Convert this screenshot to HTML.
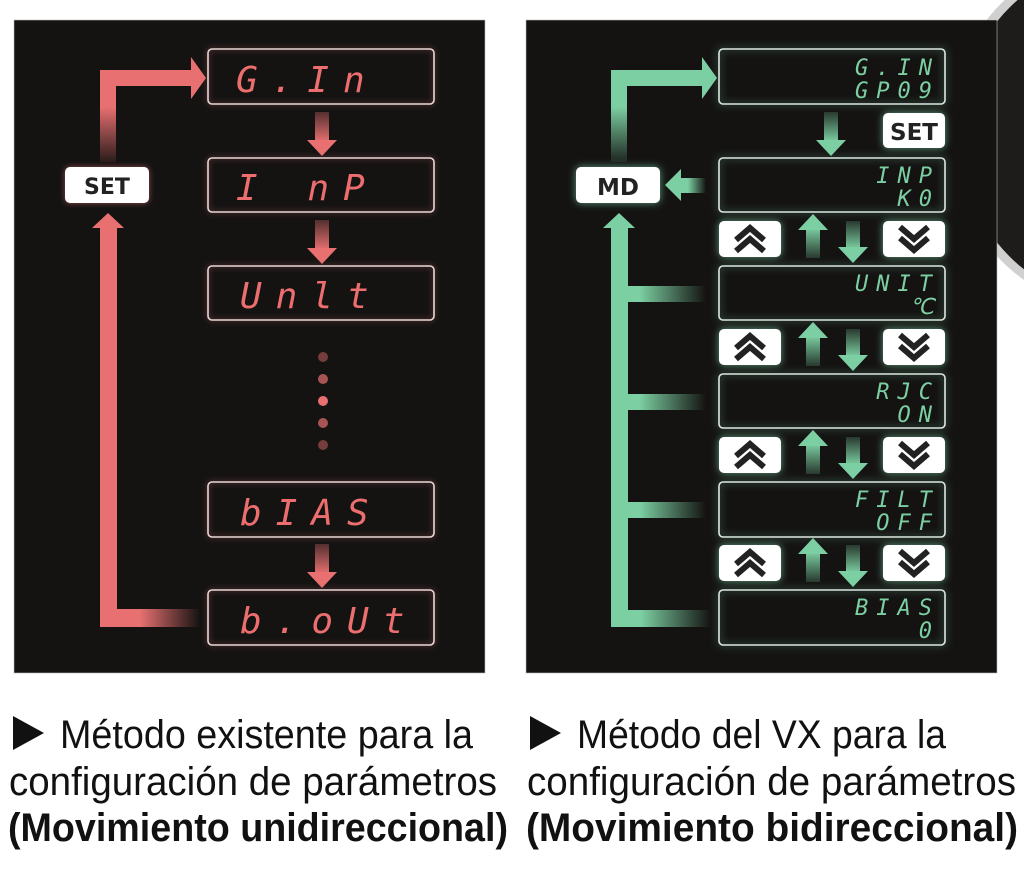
<!DOCTYPE html>
<html><head><meta charset="utf-8"><style>
html,body{margin:0;padding:0;background:#fff;}
svg{display:block}
</style></head><body>
<svg width="1024" height="888" viewBox="0 0 1024 888" xmlns="http://www.w3.org/2000/svg">
<defs>
<filter id="gr" x="-30%" y="-60%" width="160%" height="220%"><feFlood flood-color="#e87070" flood-opacity="0.6"/><feComposite operator="in" in2="SourceAlpha"/><feGaussianBlur stdDeviation="3"/><feMerge><feMergeNode/><feMergeNode in="SourceGraphic"/></feMerge></filter>
<filter id="gg" x="-30%" y="-60%" width="160%" height="220%"><feFlood flood-color="#7ed6a8" flood-opacity="0.7"/><feComposite operator="in" in2="SourceAlpha"/><feGaussianBlur stdDeviation="4"/><feMerge><feMergeNode/><feMergeNode in="SourceGraphic"/></feMerge></filter>
<linearGradient id="rv" x1="0" y1="1" x2="0" y2="0"><stop offset="0" stop-color="#e87070" stop-opacity="0.1"/><stop offset="0.6" stop-color="#e87070"/></linearGradient>
<linearGradient id="rh" x1="0" y1="0" x2="1" y2="0"><stop offset="0.4" stop-color="#e87070"/><stop offset="1" stop-color="#e87070" stop-opacity="0"/></linearGradient>
<linearGradient id="rd" x1="0" y1="0" x2="0" y2="1"><stop offset="0" stop-color="#e87070" stop-opacity="0.3"/><stop offset="1" stop-color="#e87070"/></linearGradient>
<linearGradient id="gv" x1="0" y1="1" x2="0" y2="0"><stop offset="0" stop-color="#7ccfa2" stop-opacity="0.1"/><stop offset="0.6" stop-color="#7ccfa2"/></linearGradient>
<linearGradient id="gh" x1="0" y1="0" x2="1" y2="0"><stop offset="0.3" stop-color="#7ccfa2"/><stop offset="1" stop-color="#7ccfa2" stop-opacity="0"/></linearGradient>
<linearGradient id="ghl" x1="1" y1="0" x2="0" y2="0"><stop offset="0" stop-color="#7ccfa2" stop-opacity="0"/><stop offset="0.7" stop-color="#7ccfa2"/></linearGradient>
<linearGradient id="gd" x1="0" y1="0" x2="0" y2="1"><stop offset="0" stop-color="#7ccfa2" stop-opacity="0.2"/><stop offset="1" stop-color="#7ccfa2"/></linearGradient>
<linearGradient id="gu" x1="0" y1="1" x2="0" y2="0"><stop offset="0" stop-color="#7ccfa2" stop-opacity="0.2"/><stop offset="1" stop-color="#7ccfa2"/></linearGradient>
</defs>

<circle cx="1130" cy="132" r="182" fill="#d0d0d0"/>
<circle cx="1134" cy="132" r="176" fill="#1e1c1b"/>

<rect x="14" y="20" width="471" height="653" fill="#141312" stroke="#bbb" stroke-width="0.6"/>
<rect x="526" y="20" width="471" height="653" fill="#141312" stroke="#bbb" stroke-width="0.6"/>

<g fill="none" stroke="#e8d8d8" stroke-width="1.6" filter="url(#gr)">
<rect x="208" y="49" width="226" height="55" rx="4"/>
<rect x="208" y="158" width="226" height="54" rx="4"/>
<rect x="208" y="266" width="226" height="54" rx="4"/>
<rect x="208" y="482" width="226" height="55" rx="4"/>
<rect x="208" y="590" width="226" height="55" rx="4"/>
</g>
<g font-family="'DejaVu Sans Mono','Liberation Mono',monospace" font-size="36" font-style="italic" fill="#ec6e6e" letter-spacing="14">
<text x="236" y="92">G.In</text>
<text x="236" y="200">I nP</text>
<text x="240" y="308">Unlt</text>
<text x="240" y="525">bIAS</text>
<text x="240" y="633">b.oUt</text>
</g>
<rect x="100" y="70" width="16" height="92" fill="url(#rv)"/>
<rect x="100" y="70" width="92" height="16" fill="#e87070"/>
<polygon points="191,57 206,78 191,99" fill="#e87070"/>
<rect x="100" y="226" width="17" height="400" fill="#e87070"/>
<polygon points="92,228 108,213 124,228" fill="#e87070"/>
<rect x="100" y="609" width="100" height="18" fill="url(#rh)"/>
<rect x="315" y="112" width="14" height="30" fill="url(#rd)"/><polygon points="307,140 322,156 337,140" fill="#e87070"/>
<rect x="315" y="220" width="14" height="30" fill="url(#rd)"/><polygon points="307,248 322,264 337,248" fill="#e87070"/>
<rect x="315" y="544" width="14" height="30" fill="url(#rd)"/><polygon points="307,572 322,588 337,572" fill="#e87070"/>
<g fill="#e87070"><circle cx="323" cy="357" r="5" opacity="0.45"/><circle cx="323" cy="379" r="5" opacity="0.7"/><circle cx="323" cy="401" r="5"/><circle cx="323" cy="423" r="5" opacity="0.7"/><circle cx="323" cy="445" r="5" opacity="0.45"/></g>
<rect x="65" y="167" width="84" height="36" rx="5" fill="#fff" filter="url(#gr)"/>
<text x="107" y="194" text-anchor="middle" font-family="'DejaVu Sans','Liberation Sans',sans-serif" font-weight="bold" font-size="22" fill="#222">SET</text>

<g fill="none" stroke="#dde8e2" stroke-width="1.6" filter="url(#gg)">
<rect x="719" y="49" width="226" height="55" rx="4"/>
<rect x="719" y="158" width="226" height="54" rx="4"/>
<rect x="719" y="266" width="226" height="54" rx="4"/>
<rect x="719" y="374" width="226" height="54" rx="4"/>
<rect x="719" y="482" width="226" height="55" rx="4"/>
<rect x="719" y="590" width="226" height="55" rx="4"/>
</g>
<g font-family="'DejaVu Sans Mono','Liberation Mono',monospace" font-size="22" font-style="italic" fill="#7ccfa2" text-anchor="end" letter-spacing="8">
<text x="940" y="75">G.IN</text><text x="940" y="98">GP09</text>
<text x="940" y="183">INP</text><text x="940" y="206">K0</text>
<text x="940" y="291">UNIT</text><text x="934" y="314" letter-spacing="0">℃</text>
<text x="940" y="399">RJC</text><text x="940" y="422">ON</text>
<text x="940" y="507">FILT</text><text x="940" y="530">OFF</text>
<text x="940" y="615">BIAS</text><text x="940" y="638">0</text>
</g>
<rect x="611" y="70" width="16" height="92" fill="url(#gv)"/>
<rect x="611" y="70" width="92" height="16" fill="#7ccfa2"/>
<polygon points="702,57 717,78 702,99" fill="#7ccfa2"/>
<rect x="611" y="226" width="17" height="400" fill="#7ccfa2"/>
<polygon points="603,228 619,213 635,228" fill="#7ccfa2"/>
<rect x="611" y="286" width="95" height="16" fill="url(#gh)"/>
<rect x="611" y="394" width="95" height="16" fill="url(#gh)"/>
<rect x="611" y="502" width="95" height="16" fill="url(#gh)"/>
<rect x="611" y="610" width="100" height="17" fill="url(#gh)"/>
<rect x="680" y="178" width="26" height="15" fill="url(#ghl)"/><polygon points="681,169 665,185 681,201" fill="#7ccfa2"/>
<rect x="824" y="112" width="14" height="30" fill="url(#gd)"/><polygon points="816,140 831,156 846,140" fill="#7ccfa2"/>
<g id="pair">
<rect x="806" y="228" width="14" height="30" fill="url(#gu)"/><polygon points="798,230 813,214 828,230" fill="#7ccfa2"/>
<rect x="846" y="221" width="14" height="28" fill="url(#gd)"/><polygon points="838,247 853,263 868,247" fill="#7ccfa2"/>
<rect x="719" y="221" width="62" height="36" rx="5" fill="#fff" filter="url(#gg)"/>
<rect x="883" y="221" width="62" height="36" rx="5" fill="#fff" filter="url(#gg)"/>
<path d="M736,240 l14,-12 l14,12 M736,251 l14,-12 l14,12" stroke="#222" stroke-width="6" fill="none"/>
<path d="M900,227 l14,12 l14,-12 M900,238 l14,12 l14,-12" stroke="#222" stroke-width="6" fill="none"/>
</g>
<use href="#pair" y="108"/>
<use href="#pair" y="216"/>
<use href="#pair" y="324"/>
<rect x="883" y="113" width="62" height="35" rx="5" fill="#fff" filter="url(#gg)"/>
<text x="914" y="140" text-anchor="middle" font-family="'DejaVu Sans','Liberation Sans',sans-serif" font-weight="bold" font-size="23" fill="#222">SET</text>
<rect x="576" y="167" width="84" height="36" rx="5" fill="#fff" filter="url(#gg)"/>
<text x="618" y="195" text-anchor="middle" font-family="'DejaVu Sans','Liberation Sans',sans-serif" font-weight="bold" font-size="23" fill="#222">MD</text>

<g font-family="'Liberation Sans',sans-serif" font-size="40" fill="#111">
<polygon points="13,716 13,750 44,733" fill="#111"/>
<text x="60" y="748" textLength="413" lengthAdjust="spacingAndGlyphs">Método existente para la</text>
<text x="9" y="795" textLength="488" lengthAdjust="spacingAndGlyphs">configuración de parámetros</text>
<text x="8" y="841" font-weight="bold" textLength="500" lengthAdjust="spacingAndGlyphs">(Movimiento unidireccional)</text>
<polygon points="530,716 530,750 561,733" fill="#111"/>
<text x="577" y="748" textLength="369" lengthAdjust="spacingAndGlyphs">Método del VX para la</text>
<text x="527" y="795" textLength="489" lengthAdjust="spacingAndGlyphs">configuración de parámetros</text>
<text x="526" y="841" font-weight="bold" textLength="492" lengthAdjust="spacingAndGlyphs">(Movimiento bidireccional)</text>
</g>
</svg>
</body></html>
